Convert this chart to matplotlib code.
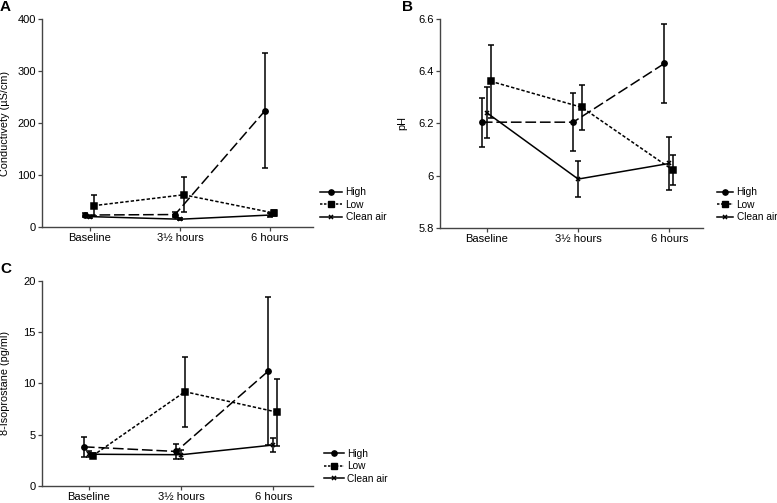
import matplotlib
matplotlib.use('Agg')
import matplotlib.pyplot as plt
from matplotlib.lines import Line2D
import numpy as np

plt.rcParams['font.family'] = ['Liberation Sans', 'DejaVu Sans']

times = ['Baseline', '3½ hours', '6 hours']
groups = ['High', 'Low', 'Clean air']

# A: conductivity
cond_high = [23, 24, 224]
cond_high_err = [3, 5, 110]
cond_low = [41, 62, 27]
cond_low_err = [20, 34, 6]
cond_clean = [20, 15, 23]
cond_clean_err = [2, 2, 3]

# B: pH
ph_high = [6.205, 6.205, 6.43]
ph_high_err = [0.094, 0.11, 0.152]
ph_low = [6.362, 6.262, 6.021]
ph_low_err = [0.14, 0.087, 0.058]
ph_clean = [6.241, 5.987, 6.047]
ph_clean_err = [0.098, 0.068, 0.101]

# C: 8-isoprostane
iso_high = [3.82, 3.37, 11.22]
iso_high_err = [1.0, 0.7, 7.2]
iso_low = [2.95, 9.2, 7.2]
iso_low_err = [0.25, 3.4, 3.27]
iso_clean = [3.1, 3.05, 4.0]
iso_clean_err = [0.3, 0.45, 0.68]

styles = {
    'High': dict(marker='o', dashes=(7, 2.5), offset=-0.055, ms=3.8),
    'Low': dict(marker='s', dashes=(2.2, 1.3), offset=0.04, ms=3.8),
    'Clean air': dict(marker='x', dashes=None, offset=0.0, ms=3.5),
}


def draw_panel(ax, series, errs, yticks, yticklabels, ylabel, xlim, label_x):
    x = np.arange(len(times))
    for name, vals, err in zip(groups, series, errs):
        st = styles[name]
        ax.errorbar(x + st['offset'], vals, yerr=err, fmt='none', ecolor='black',
                    elinewidth=1.1, capsize=2.0, capthick=1.1)
        line, = ax.plot(x + st['offset'], vals, color='black', lw=1.1,
                        marker=st['marker'], ms=st['ms'], mew=1.1, label=name)
        if st['dashes'] is not None:
            line.set_dashes(st['dashes'])
    ax.set_xlim(*xlim)
    ax.set_ylim(yticks[0], yticks[-1])
    ax.set_xticks(x)
    ax.set_xticklabels(times, fontsize=8)
    ax.set_yticks(yticks)
    ax.set_yticklabels(yticklabels, fontsize=8)
    ax.set_ylabel(ylabel, fontsize=7.8)
    ax.yaxis.set_label_coords(label_x, 0.5)
    for s in ['top', 'right']:
        ax.spines[s].set_visible(False)
    for s in ['left', 'bottom']:
        ax.spines[s].set_color('#444444')
        ax.spines[s].set_linewidth(1.0)
    ax.tick_params(direction='out', length=3, width=0.9, color='#444444', pad=1.5)


def add_legend(ax, x, y, hl):
    # legend keys: the long dashes of "High" read as a solid line at this size
    handles = [
        Line2D([], [], color='black', lw=1.1, marker='o', ms=3.8, label='High'),
        Line2D([], [], color='black', lw=1.1, marker='s', ms=3.8,
               dashes=(1.6, 1.0), label='Low'),
        Line2D([], [], color='black', lw=1.1, marker='x', ms=3.5, mew=1.1,
               label='Clean air'),
    ]
    ax.legend(handles=handles, loc='upper left', bbox_to_anchor=(x, y),
              bbox_transform=fig.transFigure, frameon=False, fontsize=7.3,
              handlelength=hl, handletextpad=0.35, labelspacing=0.25, borderpad=0)


fig = plt.figure(figsize=(7.77, 5.03), dpi=100)

axA = fig.add_axes([0.054, 0.5487, 0.349, 0.4133])
draw_panel(axA, [cond_high, cond_low, cond_clean],
           [cond_high_err, cond_low_err, cond_clean_err],
           [0, 100, 200, 300, 400], ['0', '100', '200', '300', '400'],
           'Conductivety (µS/cm)', (-0.533, 2.478), -0.118)
add_legend(axA, 0.405, 0.638, 2.2)

axB = fig.add_axes([0.566, 0.547, 0.339, 0.415])
draw_panel(axB, [ph_high, ph_low, ph_clean],
           [ph_high_err, ph_low_err, ph_clean_err],
           [5.8, 6.0, 6.2, 6.4, 6.6], ['5.8', '6', '6.2', '6.4', '6.6'],
           'pH', (-0.516, 2.37), -0.125)
add_legend(axB, 0.916, 0.638, 1.6)

axC = fig.add_axes([0.054, 0.0338, 0.349, 0.4076])
draw_panel(axC, [iso_high, iso_low, iso_clean],
           [iso_high_err, iso_low_err, iso_clean_err],
           [0, 5, 10, 15, 20], ['0', '5', '10', '15', '20'],
           '8-Isoprostane (pg/ml)', (-0.51, 2.43), -0.118)
add_legend(axC, 0.41, 0.118, 2.0)

fig.text(0.0, 1.0, 'A', fontsize=11, fontweight='bold', va='top', ha='left')
fig.text(0.517, 1.0, 'B', fontsize=11, fontweight='bold', va='top', ha='left')
fig.text(0.0, 0.479, 'C', fontsize=11, fontweight='bold', va='top', ha='left')

fig.savefig('out.png', dpi=100)
